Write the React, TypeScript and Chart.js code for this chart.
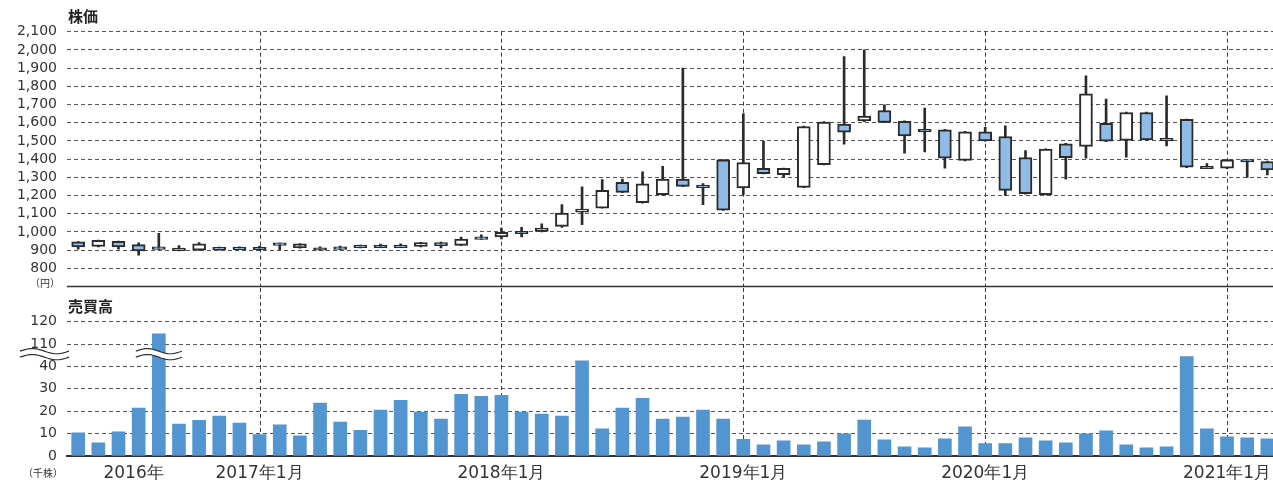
import React, { useEffect, useRef } from 'react';
import { Chart, registerables } from 'chart.js';

Chart.register(...registerables);

// ---- data ----
const months = [
  '2016年4月', '2016年5月', '2016年6月', '2016年7月', '2016年8月', '2016年9月', '2016年10月', '2016年11月', '2016年12月',
  '2017年1月', '2017年2月', '2017年3月', '2017年4月', '2017年5月', '2017年6月', '2017年7月', '2017年8月', '2017年9月', '2017年10月', '2017年11月', '2017年12月',
  '2018年1月', '2018年2月', '2018年3月', '2018年4月', '2018年5月', '2018年6月', '2018年7月', '2018年8月', '2018年9月', '2018年10月', '2018年11月', '2018年12月',
  '2019年1月', '2019年2月', '2019年3月', '2019年4月', '2019年5月', '2019年6月', '2019年7月', '2019年8月', '2019年9月', '2019年10月', '2019年11月', '2019年12月',
  '2020年1月', '2020年2月', '2020年3月', '2020年4月', '2020年5月', '2020年6月', '2020年7月', '2020年8月', '2020年9月', '2020年10月', '2020年11月', '2020年12月',
  '2021年1月', '2021年2月', '2021年3月',
];

const priceOpen = [
  945, 920, 948, 930, 918, 908, 900, 914, 916, 915,
  938, 934, 912, 917, 927, 926, 927, 920, 942, 926,
  972, 972, 1003, 1003, 1030, 1108, 1131, 1272, 1160, 1205,
  1290, 1256, 1396, 1241, 1349, 1315, 1245, 1370, 1592, 1610,
  1667, 1608, 1564, 1561, 1393, 1550, 1524, 1409, 1205, 1484,
  1470, 1597, 1502, 1656, 1513, 1618, 1360, 1350, 1396, 1387,
];
const priceHigh = [
  947, 955, 950, 940, 992, 925, 942, 917, 918, 922,
  938, 936, 918, 922, 927, 933, 934, 943, 944, 972,
  984, 1021, 1025, 1045, 1150, 1248, 1287, 1290, 1330, 1360,
  1900, 1265, 1398, 1650, 1498, 1351, 1581, 1606, 1963, 2000,
  1698, 1610, 1680, 1563, 1552, 1575, 1583, 1447, 1457, 1486,
  1857, 1730, 1658, 1658, 1747, 1620, 1375, 1398, 1396, 1389,
];
const priceLow = [
  905, 918, 905, 872, 904, 896, 898, 900, 902, 897,
  902, 910, 898, 903, 912, 913, 914, 918, 912, 924,
  958, 962, 972, 1000, 1025, 1040, 1130, 1215, 1158, 1200,
  1248, 1150, 1118, 1205, 1318, 1300, 1243, 1368, 1482, 1605,
  1600, 1433, 1440, 1350, 1390, 1498, 1200, 1207, 1203, 1290,
  1405, 1496, 1411, 1504, 1473, 1353, 1347, 1348, 1300, 1313,
];
const priceClose = [
  917, 953, 917, 896, 904, 897, 934, 901, 903, 902,
  926, 913, 899, 904, 914, 913, 914, 941, 924, 961,
  959, 997, 990, 1021, 1104, 1125, 1228, 1217, 1264, 1290,
  1250, 1243, 1120, 1381, 1320, 1349, 1579, 1604, 1548, 1637,
  1601, 1528, 1550, 1405, 1550, 1500, 1228, 1210, 1455, 1408,
  1758, 1498, 1656, 1506, 1500, 1355, 1347, 1396, 1384, 1341,
];

// 売買高（千株）
const volume = [
  10.3, 5.9, 10.8, 21.4, 114.6, 14.3, 15.9, 17.8, 14.7, 9.6,
  13.9, 9.0, 23.6, 15.2, 11.5, 20.5, 24.9, 19.6, 16.5, 27.6,
  26.7, 27.1, 19.6, 18.7, 17.8, 42.5, 12.1, 21.4, 25.8, 16.5,
  17.4, 20.5, 16.5, 7.5, 5.0, 6.8, 5.0, 6.3, 9.9, 16.1,
  7.2, 4.1, 3.7, 7.7, 13.0, 5.5, 5.5, 8.1, 6.8, 5.9,
  9.9, 11.2, 5.0, 3.7, 4.1, 44.4, 12.1, 8.6, 8.1, 7.7,
];

const xTickLabels = ['2016年', '2017年1月', '2018年1月', '2019年1月', '2020年1月', '2021年1月'];
const xTickIndex = [2.75, 9, 21, 33, 45, 57];
const janIndex = [9, 21, 33, 45, 57];

// broken volume axis: 0–40 continuous, then 110, 120
const VOL_BREAK_LOW = 40;
const VOL_BREAK_SHIFT = 60; // 110 -> 50, 120 -> 60
const volToAxis = (v: number) => (v > 100 ? v - VOL_BREAK_SHIFT : v);
const axisToVolLabel = (v: number) => (v <= VOL_BREAK_LOW ? String(v) : String(v + VOL_BREAK_SHIFT));

// ---- styles ----
const W = 1273;
const TOP_H = 288;
const VOL_H = 195;
const X_MIN = -0.555;
const X_MAX = 59.28;
const DARK = '#2b2b2b';
const GRID = '#555555';
const TXT = '#333333';
const CANDLE_BLUE = '#8fbbe6';
const VOL_BLUE = '#5395d1';
const NUM_FONT = '"DejaVu Sans", sans-serif';
const JP_FONT = '"Noto Sans CJK JP", sans-serif';

function fixY(s: any) {
  s.width = 67;
  s.paddingTop = 0;
  s.paddingBottom = 0;
}

function drawJanLines(chart: any, yTop: number) {
  const { ctx, chartArea, scales } = chart;
  const x = scales.x;
  ctx.save();
  ctx.strokeStyle = '#3a3a3a';
  ctx.lineWidth = 1;
  ctx.setLineDash([4, 3]);
  janIndex.forEach((i) => {
    const px = Math.round(x.getPixelForValue(i)) + 0.5;
    ctx.beginPath();
    ctx.moveTo(px, yTop);
    ctx.lineTo(px, chartArea.bottom);
    ctx.stroke();
  });
  ctx.restore();
}

function drawBreak(ctx: CanvasRenderingContext2D, x0: number, x1: number, yc: number) {
  const amp = 2.6;
  const gap = 3;
  const N = 30;
  const mk = (off: number) =>
    Array.from({ length: N + 1 }, (_, k) => {
      const t = k / N;
      return [x0 + (x1 - x0) * t, yc + off - amp * Math.sin(2 * Math.PI * t)];
    });
  const a = mk(-gap);
  const b = mk(gap);
  ctx.save();
  ctx.beginPath();
  a.forEach(([x, y], k) => (k ? ctx.lineTo(x, y) : ctx.moveTo(x, y)));
  b.slice().reverse().forEach(([x, y]) => ctx.lineTo(x, y));
  ctx.closePath();
  ctx.fillStyle = '#ffffff';
  ctx.fill();
  ctx.strokeStyle = '#333';
  ctx.lineWidth = 1.2;
  [a, b].forEach((p) => {
    ctx.beginPath();
    p.forEach(([x, y], k) => (k ? ctx.lineTo(x, y) : ctx.moveTo(x, y)));
    ctx.stroke();
  });
  ctx.restore();
}

const topDeco = {
  id: 'topDeco',
  beforeDatasetsDraw(chart: any) {
    drawJanLines(chart, chart.chartArea.top);
  },
  afterDraw(chart: any) {
    const { ctx, chartArea } = chart;
    ctx.save();
    ctx.strokeStyle = '#333';
    ctx.lineWidth = 1.5;
    ctx.beginPath();
    ctx.moveTo(chartArea.left, chartArea.bottom);
    ctx.lineTo(chartArea.right, chartArea.bottom);
    ctx.stroke();
    ctx.fillStyle = '#222';
    ctx.font = `bold 15px ${JP_FONT}`;
    ctx.textBaseline = 'middle';
    ctx.textAlign = 'left';
    ctx.fillText('株価', 68, 16.5);
    ctx.fillStyle = TXT;
    ctx.font = `10px ${JP_FONT}`;
    ctx.textAlign = 'right';
    ctx.fillText('（円）', 60, 283);
    ctx.restore();
  },
};

const volDeco = {
  id: 'volDeco',
  beforeDatasetsDraw(chart: any) {
    drawJanLines(chart, 0);
  },
  afterDraw(chart: any) {
    const { ctx, scales } = chart;
    const yc = scales.y.getPixelForValue(45.5);
    drawBreak(ctx, 20, 69, yc);
    const bx = scales.x.getPixelForValue(4);
    drawBreak(ctx, bx - 23, bx + 23, yc);
    ctx.save();
    ctx.fillStyle = '#222';
    ctx.font = `bold 15px ${JP_FONT}`;
    ctx.textBaseline = 'middle';
    ctx.textAlign = 'left';
    ctx.fillText('売買高', 68, 18);
    ctx.fillStyle = TXT;
    ctx.font = `10px ${JP_FONT}`;
    ctx.textAlign = 'right';
    ctx.fillText('（千株）', 63, 185);
    ctx.restore();
  },
};

export default function App() {
  const topRef = useRef<HTMLCanvasElement>(null);
  const volRef = useRef<HTMLCanvasElement>(null);

  useEffect(() => {
    document.body.style.margin = '0';
    document.body.style.overflow = 'hidden';
    const idx = months.map((_, i) => i);

    const top = new Chart(topRef.current as HTMLCanvasElement, {
      type: 'bar',
      data: {
        datasets: [
          {
            label: 'body',
            data: idx.map((i) => ({ x: i, y: [priceOpen[i], priceClose[i]] })) as any,
            backgroundColor: idx.map((i) => (priceClose[i] < priceOpen[i] ? CANDLE_BLUE : '#ffffff')),
            borderColor: DARK,
            borderWidth: 2,
            borderSkipped: false,
            barThickness: 13,
            minBarLength: 2.5,
            grouped: false,
            order: 0,
          } as any,
          {
            label: 'wick',
            data: idx.map((i) => ({ x: i, y: [priceLow[i], priceHigh[i]] })) as any,
            backgroundColor: DARK,
            barThickness: 2,
            grouped: false,
            order: 1,
          } as any,
        ],
      },
      options: {
        responsive: false,
        animation: false,
        devicePixelRatio: 1,
        layout: { autoPadding: false, padding: { top: 31.7, bottom: 1.5, left: 0, right: 0 } } as any,
        plugins: { legend: { display: false }, tooltip: { enabled: false } },
        scales: {
          x: { type: 'linear', min: X_MIN, max: X_MAX, offset: false, display: false },
          y: {
            type: 'linear',
            min: 700,
            max: 2100,
            afterFit: fixY,
            border: { display: false, dash: [4, 3] },
            grid: {
              color: (c: any) => (c.tick && c.tick.value === 700 ? 'rgba(0,0,0,0)' : GRID),
              drawTicks: false,
              lineWidth: 1,
            },
            ticks: {
              stepSize: 100,
              autoSkip: false,
              maxTicksLimit: 30,
              padding: 10,
              color: TXT,
              font: { family: NUM_FONT, size: 14 },
              callback: (v: any) => (v === 700 ? '' : Number(v).toLocaleString('en-US')),
            },
          } as any,
        },
      },
      plugins: [topDeco],
    });

    const vol = new Chart(volRef.current as HTMLCanvasElement, {
      type: 'bar',
      data: {
        datasets: [
          {
            label: '売買高',
            data: idx.map((i) => ({ x: i, y: volToAxis(volume[i]) })) as any,
            backgroundColor: VOL_BLUE,
            barThickness: 13,
            grouped: false,
          } as any,
        ],
      },
      options: {
        responsive: false,
        animation: false,
        devicePixelRatio: 1,
        layout: { autoPadding: false, padding: { top: 33.7, bottom: 0, left: 0, right: 0 } } as any,
        plugins: { legend: { display: false }, tooltip: { enabled: false } },
        scales: {
          x: {
            type: 'linear',
            min: X_MIN,
            max: X_MAX,
            offset: false,
            grid: { display: false, drawTicks: false, offset: false },
            border: { display: true, color: '#333', width: 2 },
            afterBuildTicks: (s: any) => {
              s.ticks = xTickIndex.map((v) => ({ value: v }));
            },
            afterFit: (s: any) => {
              s.height = 27;
              s.paddingLeft = 0;
              s.paddingRight = 0;
            },
            ticks: {
              autoSkip: false,
              maxRotation: 0,
              minRotation: 0,
              padding: 7,
              color: TXT,
              font: { family: NUM_FONT, size: 17 },
              callback: (_v: any, i: number) => xTickLabels[i],
            },
          } as any,
          y: {
            type: 'linear',
            min: 0,
            max: 60,
            afterFit: fixY,
            border: { display: false, dash: [4, 3] },
            grid: {
              color: (c: any) => (c.tick && c.tick.value === 0 ? 'rgba(0,0,0,0)' : GRID),
              drawTicks: false,
              lineWidth: 1,
            },
            ticks: {
              stepSize: 10,
              autoSkip: false,
              padding: 10,
              color: TXT,
              font: { family: NUM_FONT, size: 14 },
              callback: (v: any) => axisToVolLabel(Number(v)),
            },
          } as any,
        },
      },
      plugins: [volDeco],
    });

    return () => {
      top.destroy();
      vol.destroy();
    };
  }, []);

  return (
    <div style={{ width: W, height: TOP_H + VOL_H, background: '#fff' }}>
      <canvas ref={topRef} width={W} height={TOP_H} style={{ display: 'block' }} />
      <canvas ref={volRef} width={W} height={VOL_H} style={{ display: 'block' }} />
    </div>
  );
}
